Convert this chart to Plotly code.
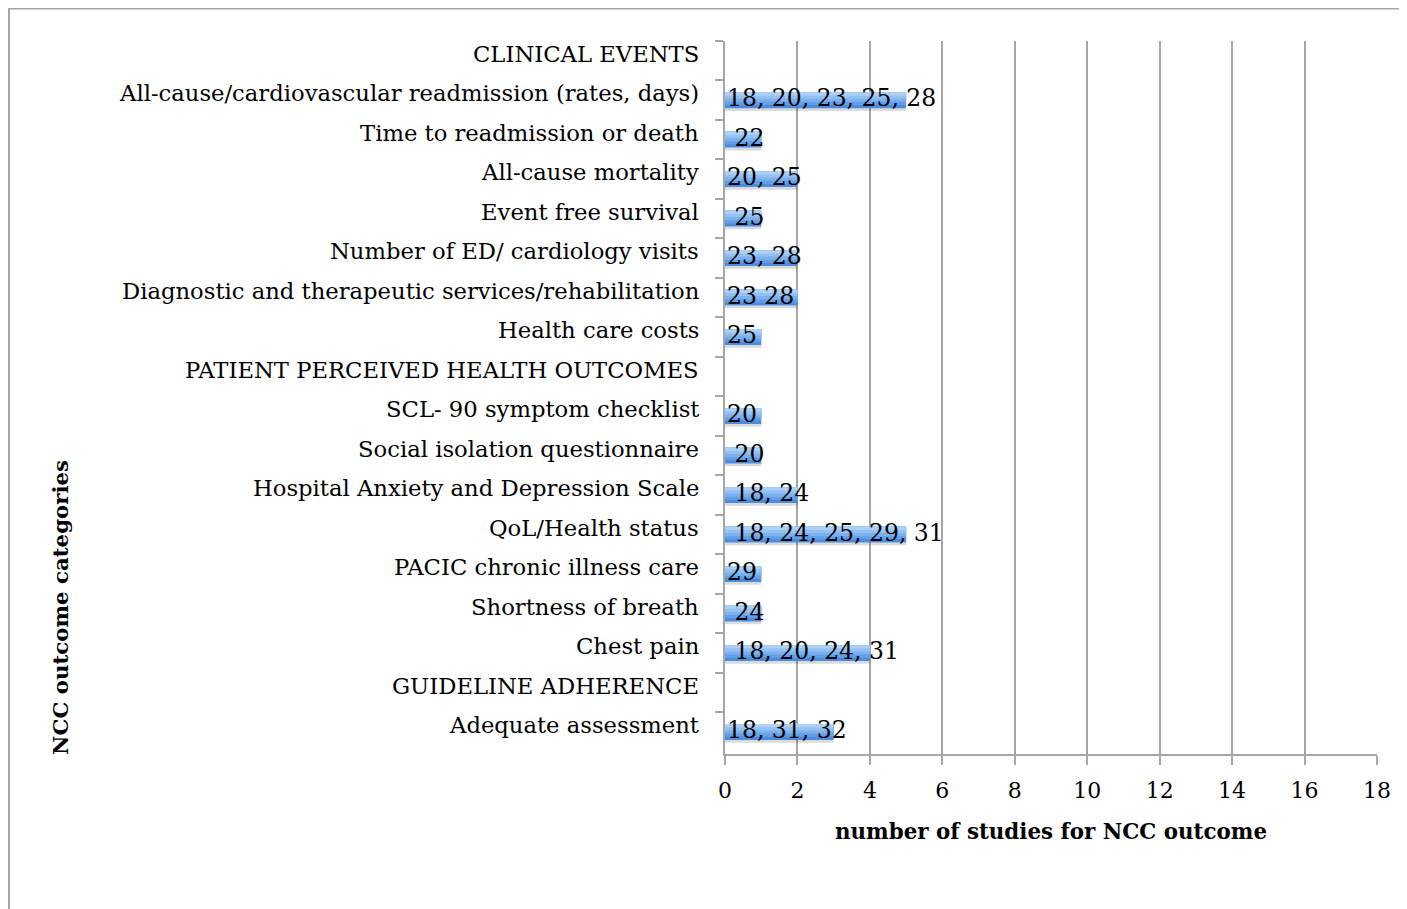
import plotly.graph_objects as go

categories = [
    "CLINICAL EVENTS",
    "All-cause/cardiovascular readmission (rates, days)",
    "Time to readmission or death",
    "All-cause mortality",
    "Event free survival",
    "Number of ED/ cardiology visits",
    "Diagnostic and therapeutic services/rehabilitation",
    "Health care costs",
    "PATIENT PERCEIVED HEALTH OUTCOMES",
    "SCL- 90 symptom checklist",
    "Social isolation questionnaire",
    "Hospital Anxiety and Depression Scale",
    "QoL/Health status",
    "PACIC chronic illness care",
    "Shortness of breath",
    "Chest pain",
    "GUIDELINE ADHERENCE",
    "Adequate assessment",
]
values = [0, 5, 1, 2, 1, 2, 2, 1, 0, 1, 1, 2, 5, 1, 1, 4, 0, 3]
bar_labels = [
    "", "18, 20, 23, 25, 28", " 22", "20, 25", " 25", "23, 28", "23 28", "25",
    "", "20", " 20", " 18, 24", " 18, 24, 25, 29, 31", "29", " 24", " 18, 20, 24, 31",
    "", "18, 31, 32",
]
x_ticks = [0, 2, 4, 6, 8, 10, 12, 14, 16, 18]

FONT = "DejaVu Serif"
# plot area in svg pixels (page body adds an 8px offset)
L, R, T, B = 717, 1369, 33, 746
PW, PH = R - L, B - T


def px(x):
    return (x - L) / PW


def py(y):
    return (B - y) / PH


fig = go.Figure()

# soft shadow
fig.add_trace(go.Bar(y=categories, x=values, orientation="h", width=0.40, offset=-0.13,
                     marker=dict(color="rgba(0,0,0,0.14)", line=dict(width=0)), hoverinfo="skip"))
# vertical gradient built from overlapping bands (dark bottom -> light top)
bands = [(0.40, "#4a8ddf"), (0.32, "#629fe8"), (0.24, "#7bb1ee"), (0.16, "#94c1f2"), (0.08, "#add1f6")]
for w, col in bands:
    fig.add_trace(go.Bar(y=categories, x=values, orientation="h", width=w, offset=-0.20,
                         marker=dict(color=col, line=dict(width=0)), hoverinfo="skip"))

annotations = []
for c, t in zip(categories, bar_labels):
    if t:
        annotations.append(dict(x=0, y=c, xref="x", yref="y", text=t, showarrow=False,
                                xanchor="left", yanchor="middle", xshift=0, yshift=2,
                                font=dict(family=FONT, size=23.5, color="black")))
for c in categories:
    annotations.append(dict(x=0, y=c, xref="x", yref="y", text=c, showarrow=False,
                            xanchor="right", yanchor="middle", xshift=-24, yshift=7,
                            font=dict(family=FONT, size=22.7, color="black")))
annotations.append(dict(x=px(52), y=py(600), xref="paper", yref="paper",
                        text="<b>NCC outcome categories</b>",
                        showarrow=False, textangle=-90, xanchor="center", yanchor="middle",
                        font=dict(family=FONT, size=21.3, color="black")))

fig.update_layout(
    width=1407, height=909,
    margin=dict(l=L, r=1407 - R, t=T, b=909 - B),
    paper_bgcolor="white", plot_bgcolor="white",
    barmode="overlay", showlegend=False,
    annotations=annotations,
    shapes=[dict(type="rect", xref="paper", yref="paper",
                 x0=px(1), x1=px(1430), y0=py(940), y1=py(0.5),
                 line=dict(color="#a6a6a6", width=2), fillcolor="rgba(0,0,0,0)", layer="below")],
    xaxis=dict(range=[0, 18], tickvals=x_ticks, ticktext=[str(v) for v in x_ticks],
               showgrid=True, gridcolor="#a6a6a6", gridwidth=2,
               showline=True, linecolor="#a6a6a6", linewidth=2,
               ticks="outside", ticklen=9, tickcolor="#a6a6a6", tickwidth=2,
               tickfont=dict(family=FONT, size=22, color="black"),
               ticklabelstandoff=7,
               zeroline=False,
               title=dict(text="<b>number of studies for NCC outcome</b>", standoff=22,
                          font=dict(family=FONT, size=21.4, color="black"))),
    yaxis=dict(categoryorder="array", categoryarray=categories, autorange="reversed",
               showticklabels=False, tickson="boundaries",
               ticks="outside", ticklen=8, tickcolor="#a6a6a6", tickwidth=2,
               showline=True, linecolor="#a6a6a6", linewidth=2, showgrid=False,
               zeroline=False),
)

fig.write_html("out.html")
